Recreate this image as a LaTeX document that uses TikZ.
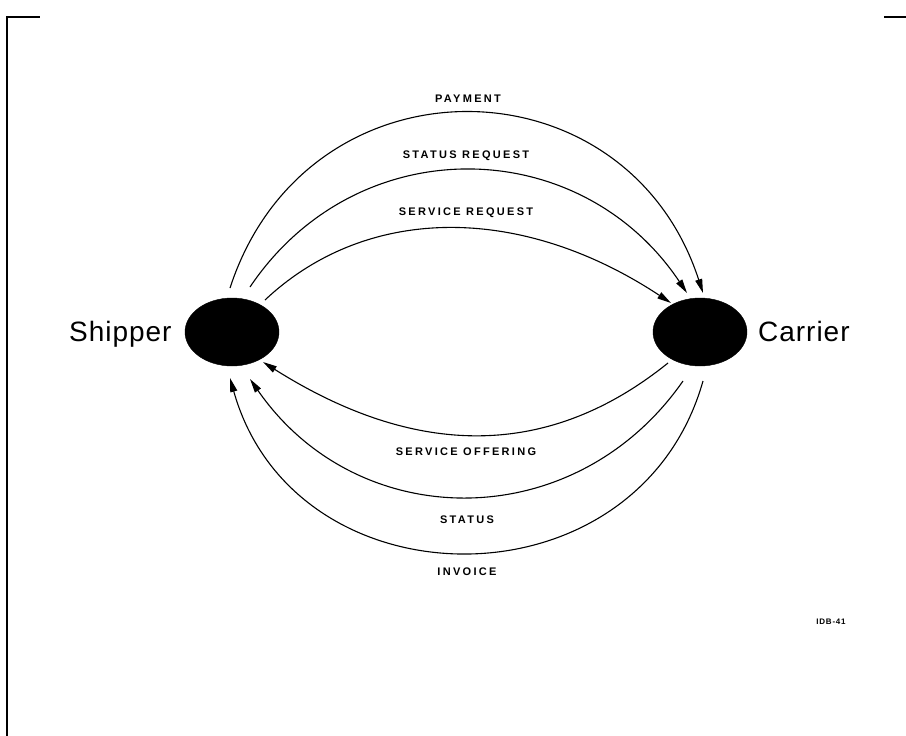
\documentclass[tikz,border=0pt]{standalone}
\usepackage{fontspec}
\setmainfont{Liberation Sans}
\newfontfamily\lblfont[LetterSpace=21]{Liberation Sans}
\newfontfamily\bigfont[LetterSpace=3.5]{Liberation Sans}
\newfontfamily\codefont[LetterSpace=10]{Liberation Sans}
\usetikzlibrary{arrows.meta,shapes.geometric}
\begin{document}
\begin{tikzpicture}[x=1pt,y=-1pt,
  party/.style={draw=black,fill=black,ellipse,minimum width=94pt,minimum height=68pt,inner sep=0pt},
  partyname/.style={inner sep=0pt,font=\fontsize{28}{30}\selectfont\bigfont},
  msg/.style={inner sep=0pt,font=\fontsize{11}{13}\selectfont\lblfont\bfseries},
  flow/.style={draw=black,line width=1.1pt,-{Triangle[length=14pt,width=7pt]}},
  frameline/.style={draw=black,line width=2pt}]
\useasboundingbox (0,0) rectangle (906,736);
% frame
\draw[frameline] (7,736) -- (7,17) -- (40,17);
\draw[frameline] (884,17) -- (906,17);
% parties
\node[party] (sh) at (232,332) {};
\node[party] (ca) at (700,332) {};
\node[partyname,anchor=base west] (shl) at (69,341) {Shipper};
\node[partyname,anchor=base west] (cal) at (758,341) {Carrier};
% connector end points
\coordinate (p1) at (230,288); \coordinate (p2) at (703,293);
\coordinate (q1) at (250,287); \coordinate (q2) at (687,293);
\coordinate (r1) at (265,300); \coordinate (r2) at (671,303);
\coordinate (s1) at (668,363); \coordinate (s2) at (263,362);
\coordinate (t1) at (683,381); \coordinate (t2) at (250,379);
\coordinate (u1) at (703,381); \coordinate (u2) at (230,378);
% upper flows
\draw[flow] (p1) .. controls (307,52) and (626,56) .. (p2);
\draw[flow] (q1) .. controls (357,128) and (580,133) .. (q2);
\draw[flow] (r1) .. controls (367,204) and (521,204) .. (r2);
% lower flows
\draw[flow] (s1) .. controls (539,467) and (404,451) .. (s2);
\draw[flow] (t1) .. controls (575,536) and (358,535) .. (t2);
\draw[flow] (u1) .. controls (638,611) and (295,609) .. (u2);
% labels
\node[msg] (l1) at (468,99) {PAYMENT};
\node[msg] (l2) at (466,156) {STATUS REQUEST};
\node[msg] (l3) at (466,213) {SERVICE REQUEST};
\node[msg] (l4) at (466,452) {SERVICE OFFERING};
\node[msg] (l5) at (467,520) {STATUS};
\node[msg] (l6) at (467,572) {INVOICE};
\node[inner sep=0pt,font=\fontsize{8}{9}\selectfont\codefont\bfseries] (code) at (831,622) {IDB-41};
\end{tikzpicture}
\end{document}
